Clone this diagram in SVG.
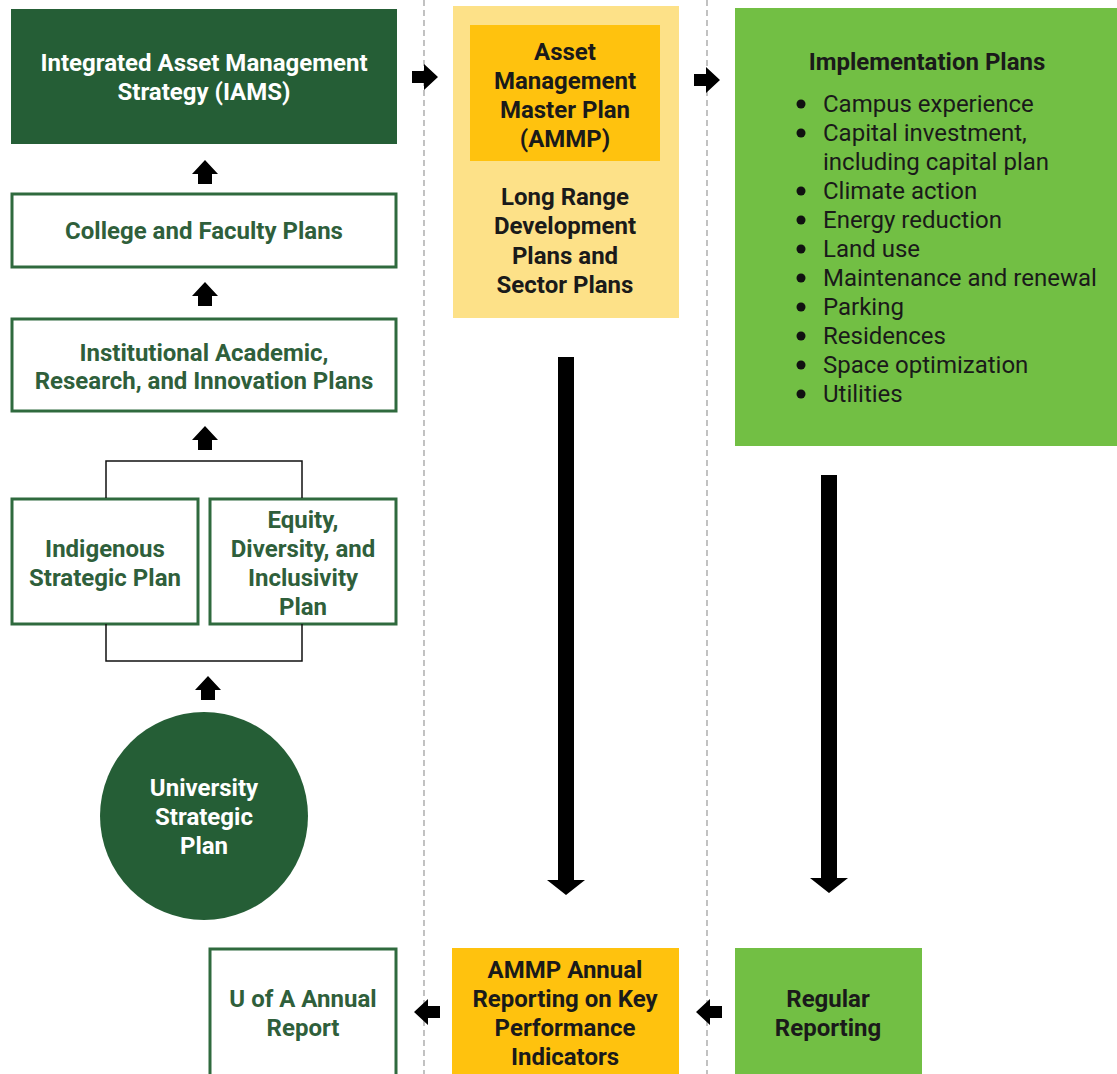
<svg xmlns="http://www.w3.org/2000/svg" width="1117" height="1074" viewBox="0 0 1117 1074">
<defs>
<style>
.t{font-family:Roboto,"Liberation Sans",sans-serif;font-weight:bold;font-size:24px;text-anchor:middle}
.w{fill:#ffffff}
.g{fill:#2f5f3b}
.k{fill:#1a1a1a}
.r{font-family:Roboto,"Liberation Sans",sans-serif;font-size:24px;fill:#1a1a1a}
.box{fill:#ffffff;stroke:#2f6a3e;stroke-width:3}
.dash{stroke:#999;stroke-width:1.2;stroke-dasharray:6,4;fill:none}
.br{stroke:#111;stroke-width:1.5;fill:none}
.ar{fill:#000}
</style>
<path id="up" d="M-7,0 V-10 H-13 L0,-24 L13,-10 H7 V0 Z"/>
<path id="right" d="M0,-6 H12 V-13 L26,0 L12,13 V6 H0 Z"/>
</defs>
<rect width="1117" height="1074" fill="#ffffff"/>
<g id="lanes">
<line class="dash" x1="424" y1="0" x2="424" y2="1074"/>
<line class="dash" x1="707" y1="0" x2="707" y2="1074"/>
</g>
<g id="iams">
<rect x="11" y="9" width="386" height="135" fill="#255e36"/>
<text class="t w" x="204" y="71">Integrated Asset Management</text>
<text class="t w" x="204" y="100">Strategy (IAMS)</text>
</g>
<g id="college">
<rect class="box" x="12" y="194" width="384" height="73"/>
<text class="t g" x="204" y="239">College and Faculty Plans</text>
</g>
<g id="institutional">
<rect class="box" x="12" y="319" width="384" height="92"/>
<text class="t g" x="204" y="361">Institutional Academic,</text>
<text class="t g" x="204" y="389">Research, and Innovation Plans</text>
</g>
<g id="indigenous">
<rect class="box" x="12" y="499" width="186" height="125"/>
<text class="t g" x="105" y="557">Indigenous</text>
<text class="t g" x="105" y="586">Strategic Plan</text>
</g>
<g id="equity">
<rect class="box" x="210" y="499" width="186" height="125"/>
<text class="t g" x="303" y="528">Equity,</text>
<text class="t g" x="303" y="557">Diversity, and</text>
<text class="t g" x="303" y="586">Inclusivity</text>
<text class="t g" x="303" y="615">Plan</text>
</g>
<g id="usp">
<circle cx="204" cy="816" r="104" fill="#255e36"/>
<text class="t w" x="204" y="796">University</text>
<text class="t w" x="204" y="825">Strategic</text>
<text class="t w" x="204" y="854">Plan</text>
</g>
<g id="annual">
<rect class="box" x="210" y="949" width="186" height="130"/>
<text class="t g" x="303" y="1007">U of A Annual</text>
<text class="t g" x="303" y="1036">Report</text>
</g>
<g id="ammp">
<rect x="453" y="6" width="226" height="312" fill="#fde188"/>
<rect x="470" y="25" width="190" height="136" fill="#ffc20e"/>
<text class="t k" x="565" y="60">Asset</text>
<text class="t k" x="565" y="89">Management</text>
<text class="t k" x="565" y="118">Master Plan</text>
<text class="t k" x="565" y="147">(AMMP)</text>
<text class="t k" x="565" y="205">Long Range</text>
<text class="t k" x="565" y="234">Development</text>
<text class="t k" x="565" y="264">Plans and</text>
<text class="t k" x="565" y="293">Sector Plans</text>
</g>
<g id="implementation">
<rect x="735" y="8" width="382" height="438" fill="#72bf44"/>
<text class="t k" x="927" y="70">Implementation Plans</text>
<g class="r">
<text x="823" y="112">Campus experience</text>
<text x="823" y="141">Capital investment,</text>
<text x="823" y="170">including capital plan</text>
<text x="823" y="199">Climate action</text>
<text x="823" y="228">Energy reduction</text>
<text x="823" y="257">Land use</text>
<text x="823" y="286">Maintenance and renewal</text>
<text x="823" y="315">Parking</text>
<text x="823" y="344">Residences</text>
<text x="823" y="373">Space optimization</text>
<text x="823" y="402">Utilities</text>
</g>
<g fill="#111">
<circle cx="801" cy="104" r="4.5"/>
<circle cx="801" cy="133" r="4.5"/>
<circle cx="801" cy="191" r="4.5"/>
<circle cx="801" cy="220" r="4.5"/>
<circle cx="801" cy="249" r="4.5"/>
<circle cx="801" cy="278" r="4.5"/>
<circle cx="801" cy="307" r="4.5"/>
<circle cx="801" cy="336" r="4.5"/>
<circle cx="801" cy="365" r="4.5"/>
<circle cx="801" cy="394" r="4.5"/>
</g>
</g>
<g id="kpi">
<rect x="452" y="948" width="227" height="130" fill="#ffc20e"/>
<text class="t k" x="565" y="978">AMMP Annual</text>
<text class="t k" x="565" y="1007">Reporting on Key</text>
<text class="t k" x="565" y="1036">Performance</text>
<text class="t k" x="565" y="1065">Indicators</text>
</g>
<g id="regular">
<rect x="735" y="948" width="187" height="130" fill="#72bf44"/>
<text class="t k" x="828" y="1007">Regular</text>
<text class="t k" x="828" y="1036">Reporting</text>
</g>
<g id="connectors">
<use href="#up" class="ar" x="205" y="184"/>
<use href="#up" class="ar" x="205" y="306"/>
<use href="#up" class="ar" x="205" y="450"/>
<use href="#up" class="ar" x="208" y="700"/>
<path class="br" d="M106,498 V461 H302 V498"/>
<path class="br" d="M106,624 V661 H302 V624"/>
<use href="#right" class="ar" x="412" y="77"/>
<use href="#right" class="ar" x="694" y="80"/>
<use href="#right" class="ar" transform="translate(440,1012) scale(-1,1)"/>
<use href="#right" class="ar" transform="translate(722,1012) scale(-1,1)"/>
<path class="ar" d="M558,357 H574 V880 H585 L566,895 L547,880 H558 Z"/>
<path class="ar" d="M821,475 H837 V878 H848 L829,893 L810,878 H821 Z"/>
</g>
</svg>
